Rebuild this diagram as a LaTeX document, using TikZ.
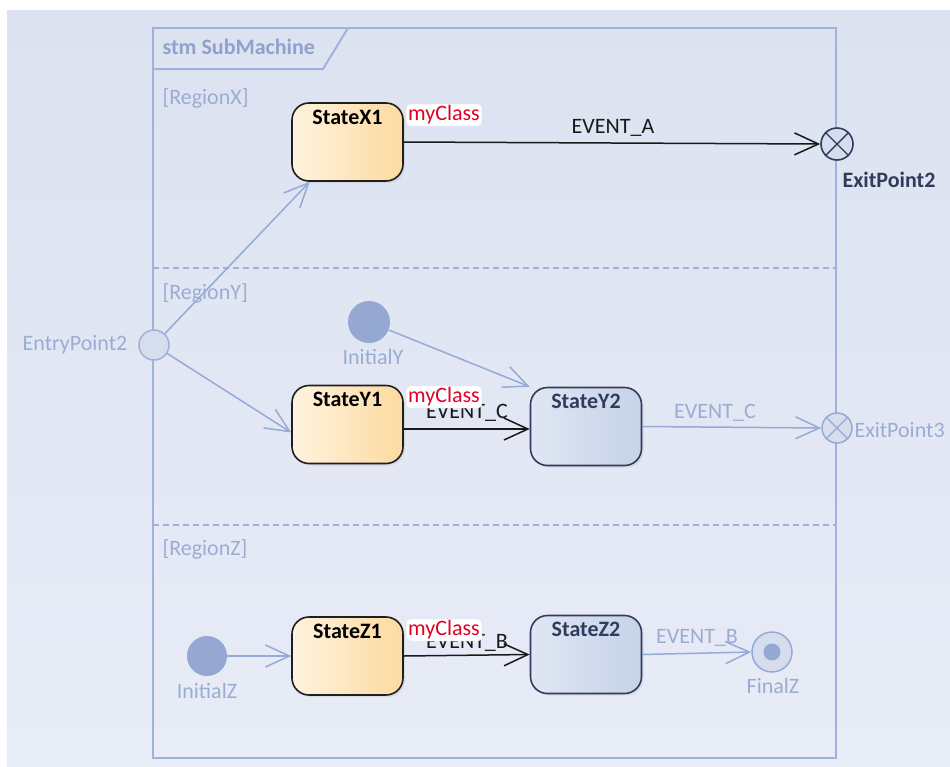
\documentclass[tikz,border=0pt]{standalone}
\usepackage{fontspec}
\setmainfont{Carlito}
\usetikzlibrary{arrows.meta,calc,shadows}
\definecolor{bgtop}{RGB}{220,226,240}
\definecolor{bgbot}{RGB}{232,236,247}
\definecolor{framec}{RGB}{160,178,218}
\definecolor{lightc}{RGB}{150,170,215}
\definecolor{lighttext}{RGB}{155,172,212}
\definecolor{orangeL}{RGB}{254,243,222}
\definecolor{orangeR}{RGB}{253,218,160}
\definecolor{blueL}{RGB}{224,230,243}
\definecolor{blueR}{RGB}{198,210,232}
\definecolor{navy}{RGB}{48,60,92}
\definecolor{initc}{RGB}{148,168,210}
\definecolor{pseudofill}{RGB}{214,222,238}
\definecolor{myred}{RGB}{225,0,40}
\begin{document}
\begin{tikzpicture}[x=1pt,y=-1pt,
  every node/.style={font=\fontsize{22}{26}\selectfont},
  statebase/.style={line width=1.6pt, rounded corners=17pt, minimum width=111pt, minimum height=78pt, inner sep=0pt,
    drop shadow={shadow xshift=2pt, shadow yshift=-2pt, opacity=0.15}},
  stateO/.style={statebase, draw=black!88, left color=orangeL, right color=orangeR},
  stateB/.style={statebase, draw=navy, left color=blueL, right color=blueR},
  sname/.style={anchor=north, yshift=-4pt, font=\fontsize{22}{26}\selectfont\bfseries},
  mycls/.style={fill=white, draw=black!10, rounded corners=4pt, text=myred, inner xsep=2pt, inner ysep=1pt, minimum height=22pt},
  darr/.style={draw=black!90, line width=1.5pt, -{Straight Barb[length=24pt,width=22pt]}},
  larr/.style={draw=lightc, line width=1.5pt, -{Straight Barb[length=24pt,width=22pt]}},
  ltext/.style={text=lighttext},
  dtext/.style={text=black!90},
  regiontext/.style={text=lighttext, anchor=west}
]
\fill[white] (0,0) rectangle (950,766);
\shade[top color=bgtop, bottom color=bgbot] (7,10) rectangle (950,766);
\useasboundingbox (0,0) rectangle (950,766);

% frame
\draw[framec, line width=2.5pt] (153,28) rectangle (836,758);
\draw[framec, line width=2pt] (153,69) -- (323,69) -- (348,28);
\node[anchor=west, text=lightc!95!black, font=\fontsize{22}{26}\selectfont\bfseries] (title) at (159,47) {stm SubMachine};
\draw[framec, line width=1.5pt, dash pattern=on 6pt off 4pt] (153,268) -- (836,268);
\draw[framec, line width=1.5pt, dash pattern=on 6pt off 4pt] (153,525) -- (836,525);
\node[regiontext] (rx) at (159,98) {[RegionX]};
\node[regiontext] (ry) at (159,293) {[RegionY]};
\node[regiontext] (rz) at (159,549) {[RegionZ]};

% states
\node[stateO, label={[sname]north:StateX1}] (sx1) at (347.5,142) {};
\node[stateO, label={[sname]north:StateY1}] (sy1) at (347.5,424.5) {};
\node[stateB, label={[sname, text=navy]north:StateY2}] (sy2) at (586,426.5) {};
\node[stateO, label={[sname]north:StateZ1}] (sz1) at (347.5,656) {};
\node[stateB, label={[sname, text=navy]north:StateZ2}] (sz2) at (586,654.5) {};

% pseudostates
\node[circle, draw=framec, fill=pseudofill, line width=1.5pt, minimum size=30pt, inner sep=0pt] (ep2) at (154,345) {};
\node[circle, draw=navy, fill=pseudofill, line width=1.6pt, minimum size=32pt, inner sep=0pt] (ex2) at (837,144) {};
\draw[navy, line width=1.4pt] (ex2.north west) -- (ex2.south east) (ex2.north east) -- (ex2.south west);
\node[circle, draw=lightc, fill=pseudofill, line width=1.5pt, minimum size=30pt, inner sep=0pt] (ex3) at (837,428) {};
\draw[lightc, line width=1.3pt] (ex3.north west) -- (ex3.south east) (ex3.north east) -- (ex3.south west);
\node[circle, fill=initc, minimum size=42pt, inner sep=0pt] (iy) at (369,322) {};
\node[circle, fill=initc, minimum size=40pt, inner sep=0pt] (iz) at (207,656) {};
\node[circle, draw=lightc, fill=pseudofill, line width=1.5pt, minimum size=40pt, inner sep=0pt] (fz) at (772,652) {};
\node[circle, fill=initc, minimum size=17pt, inner sep=0pt] (fzdot) at (fz) {};

% pseudostate labels
\node[ltext] (lep2) at (75,345) {EntryPoint2};
\node[text=navy, font=\fontsize{22}{26}\selectfont\bfseries] (lex2) at (889,180) {ExitPoint2};
\node[ltext, anchor=west] (lex3) at (851,430) {ExitPoint3};
\node[ltext] (liy) at (373,357) {InitialY};
\node[ltext] (liz) at (207,691) {InitialZ};
\node[ltext] (lfz) at (773,686) {FinalZ};

% connectors
\draw[darr] (sx1.east) -- (ex2.west);
\node[dtext] (lea) at (613,128) {EVENT\_A};
\draw[larr] (ep2) -- (sx1);
\draw[larr] (ep2) -- ($(sy1.west)+(0,8)$);
\draw[larr] (iy) -- (sy2.north west);
\draw[darr] ($(sy1.east)+(0,4.5)$) -- ($(sy2.west)+(0,2.5)$);
\node[dtext] (lec1) at (467,413) {EVENT\_C};
\draw[larr] (sy2.east) -- (ex3.west);
\node[ltext] (lec2) at (715,413) {EVENT\_C};
\draw[larr] (iz) -- (sz1);
\draw[darr] (sz1.east) -- (sz2.west);
\node[dtext] (leb1) at (467,643) {EVENT\_B};
\draw[larr] (sz2.east) -- (fz.west);
\node[ltext] (leb2) at (697,638) {EVENT\_B};

% myClass tags
\node[mycls] (mx) at (444,115) {myClass};
\node[mycls] (my) at (444,397) {myClass};
\node[mycls] (mz) at (444,630) {myClass};
\end{tikzpicture}
\end{document}
